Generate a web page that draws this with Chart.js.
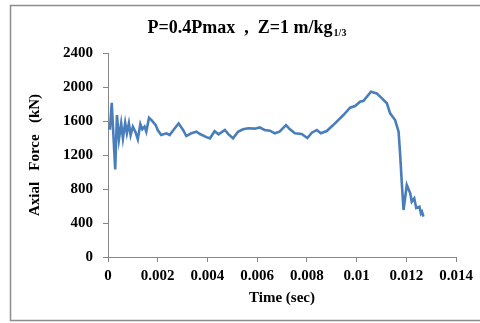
<!DOCTYPE html>
<html><head><meta charset="utf-8">
<script src="https://cdn.jsdelivr.net/npm/chart.js@4"></script>
<style>html,body{margin:0;padding:0;background:#fff;}#wrap{position:relative;width:480px;height:323px;}</style>
</head><body><div id="wrap"><canvas id="c" width="480" height="323"></canvas></div>
<script>
const timeSec = [0, 0.00008, 0.00015, 0.00029, 0.00036, 0.00044, 0.00053, 0.0006, 0.00069, 0.00076, 0.00084, 0.00091, 0.001, 0.0011, 0.0012, 0.0013, 0.00138, 0.00147, 0.00154, 0.00165, 0.00175, 0.00192, 0.002, 0.00214, 0.00235, 0.00248, 0.00261, 0.00284, 0.00302, 0.00315, 0.00335, 0.00356, 0.0037, 0.00396, 0.0041, 0.00429, 0.00445, 0.0047, 0.00485, 0.00503, 0.00523, 0.00543, 0.00564, 0.0059, 0.0061, 0.0063, 0.00651, 0.00671, 0.0069, 0.00716, 0.00732, 0.00752, 0.00779, 0.00802, 0.0082, 0.0084, 0.00856, 0.0088, 0.00906, 0.00947, 0.00974, 0.00994, 0.01014, 0.01028, 0.01058, 0.01081, 0.01102, 0.01122, 0.01135, 0.01155, 0.01169, 0.01175, 0.01182, 0.01189, 0.01202, 0.01216, 0.01222, 0.01232, 0.0124, 0.01253, 0.01259, 0.01263, 0.01269];
const axialForce = [1517, 1513, 1815, 1031, 1670, 1384, 1572, 1396, 1580, 1455, 1572, 1435, 1533, 1474, 1384, 1564, 1502, 1533, 1474, 1638, 1611, 1552, 1494, 1435, 1455, 1435, 1486, 1572, 1494, 1423, 1455, 1474, 1447, 1410, 1396, 1480, 1443, 1494, 1443, 1396, 1474, 1502, 1514, 1510, 1525, 1494, 1486, 1455, 1474, 1552, 1502, 1455, 1447, 1400, 1462, 1494, 1455, 1482, 1552, 1670, 1756, 1776, 1827, 1838, 1944, 1925, 1866, 1808, 1690, 1611, 1474, 1223, 870, 553, 847, 749, 650, 690, 576, 592, 514, 533, 474];
const xTickLabels = ["0", "0.002", "0.004", "0.006", "0.008", "0.01", "0.012", "0.014"];
const yTickLabels = ["0", "400", "800", "1200", "1600", "2000", "2400"];
const titleMain = "P=0.4Pmax  ,  Z=1 m/kg";
const titleSub = "1/3";

const points = timeSec.map((t, i) => ({x: t, y: axialForce[i]}));
const FONT = "'Liberation Serif', 'Times New Roman', serif";
const axisGray = '#868686';

const frame = {
  id: 'frame',
  beforeDraw(chart) {
    const ctx = chart.ctx;
    ctx.save();
    ctx.strokeStyle = '#8c8c8c';
    ctx.lineWidth = 1.5;
    ctx.strokeRect(10.5, 5.5, 480, 315);
    ctx.restore();
  },
  afterDraw(chart) {
    const ctx = chart.ctx;
    ctx.save();
    ctx.fillStyle = '#000';
    ctx.textBaseline = 'alphabetic';
    ctx.font = 'bold 18px ' + FONT;
    const w1 = ctx.measureText(titleMain).width;
    ctx.font = 'bold 10px ' + FONT;
    const w2 = ctx.measureText(titleSub).width;
    const total = w1 + 1 + w2;
    const x0 = 247 - total / 2;
    ctx.font = 'bold 18px ' + FONT;
    ctx.fillText(titleMain, x0, 33);
    ctx.font = 'bold 10px ' + FONT;
    ctx.fillText(titleSub, x0 + w1 + 1, 36);
    ctx.restore();
  }
};

new Chart(document.getElementById('c'), {
  type: 'line',
  data: {
    datasets: [{
      data: points,
      borderColor: '#4a7ebb',
      borderWidth: 2.6,
      pointRadius: 0,
      tension: 0,
      fill: false
    }]
  },
  options: {
    responsive: false,
    animation: false,
    events: [],
    layout: {padding: {top: 53, right: 24, bottom: 0, left: 0}},
    plugins: {legend: {display: false}, tooltip: {enabled: false}, title: {display: false}},
    scales: {
      x: {
        type: 'linear',
        min: 0, max: 0.014,
        afterFit(s) { s.height = 66; },
        ticks: {
          stepSize: 0.002,
          color: '#000',
          font: {family: FONT, size: 15, weight: 'bold'},
          padding: 5,
          maxRotation: 0,
          autoSkip: false,
          callback: (v, i) => xTickLabels[i]
        },
        grid: {display: true, drawOnChartArea: false, drawTicks: true, tickLength: 5, color: axisGray},
        border: {display: true, color: axisGray, width: 1},
        title: {display: true, text: 'Time (sec)', color: '#000', font: {family: FONT, size: 15, weight: 'bold'}, padding: {top: 0, bottom: 16}}
      },
      y: {
        min: 0, max: 2400,
        afterFit(s) { s.width = 108; },
        ticks: {
          stepSize: 400,
          color: '#000',
          font: {family: FONT, size: 15, weight: 'bold'},
          padding: 10,
          autoSkip: false,
          callback: (v, i) => yTickLabels[i]
        },
        grid: {display: true, drawOnChartArea: false, drawTicks: true, tickLength: 5, color: axisGray},
        border: {display: true, color: axisGray, width: 1},
        title: {display: true, text: 'Axial   Force   (kN)', color: '#000', font: {family: FONT, size: 15, weight: 'bold'}, padding: {top: 26, bottom: 0}}
      }
    }
  },
  plugins: [frame]
});
</script>
</body></html>
